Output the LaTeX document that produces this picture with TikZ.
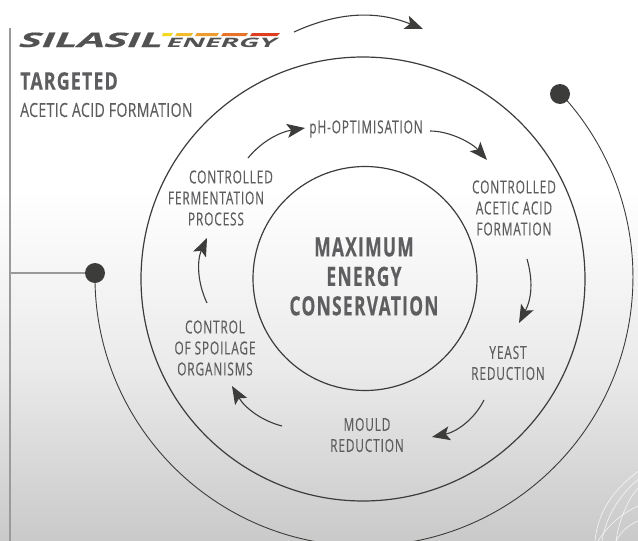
\documentclass[tikz,border=0pt]{standalone}
\usepackage{fontspec}
\usetikzlibrary{arrows.meta}
\setmainfont{Open Sans}
\newfontfamily\condfont[FakeStretch=0.655,LetterSpace=5,FakeBold=0.25]{Open Sans}
\newfontfamily\condbold[FakeStretch=0.655,LetterSpace=5,FakeBold=0.4]{Open Sans Bold}
\newfontfamily\headbold[FakeStretch=0.74,LetterSpace=5,FakeBold=0.4]{Open Sans Bold}
\newfontfamily\plainfont[FakeStretch=0.72,LetterSpace=2,FakeBold=0.2]{Open Sans}
\newfontfamily\logofont[FakeStretch=2.0,FakeSlant=0.45,FakeBold=0.5]{Open Sans Bold}
\newfontfamily\logofontb[FakeStretch=2.15,FakeSlant=0.45]{Open Sans Bold}
\definecolor{ink}{HTML}{3C3C3A}
\definecolor{label}{HTML}{5E5E60}
\definecolor{railc}{HTML}{9A9A9A}
\definecolor{s1}{HTML}{F6D91C}
\definecolor{s2}{HTML}{F3BC2B}
\definecolor{s3}{HTML}{EE9C2B}
\definecolor{s4}{HTML}{E67327}
\definecolor{s5}{HTML}{DE3E20}
\tikzset{
  x=1pt,y=-1pt,
  ring/.style={draw=ink,line width=1.2pt},
  bigarc/.style={draw=ink,line width=0.9pt},
  flow/.style={draw=ink,line width=1.1pt,-{Stealth[length=18pt,width=14pt,inset=4pt]}},
  stagelabel/.style={text=label,align=center,inner sep=0pt,font=\condfont\fontsize{18}{21}\selectfont},
  corelabel/.style={text=label,align=center,inner sep=0pt,font=\condbold\fontsize{26.5}{29.5}\selectfont},
  dotnode/.style={circle,fill=ink,minimum size=20pt,inner sep=0pt},
  rail/.style={draw=railc,line width=1.5pt},
  texture/.style={draw=white,line width=0.6pt,opacity=.8}
}
\begin{document}
\begin{tikzpicture}
\useasboundingbox (0,0) rectangle (638,541);
\clip (0,0) rectangle (638,541);
% background
\fill[white] (0,0) rectangle (638,200);
\shade[top color=white,bottom color=black!21,middle color=black!8] (0,190) rectangle (638,541);
% texture
\draw[texture] (595,541) .. controls (598,510) and (615,488) .. (640,470);
\draw[texture] (602,541) .. controls (606,515) and (622,492) .. (640,478);
\draw[texture] (616,541) .. controls (619,520) and (628,498) .. (640,486);
\draw[texture] (598,541) .. controls (610,522) and (625,512) .. (640,505);
\draw[texture] (616,541) .. controls (622,530) and (630,524) .. (640,520);
% rail
\coordinate (railtop) at (10,28);
\coordinate (railbot) at (10,541);
\coordinate (railjoin) at (10,273);
\draw[rail] (railtop) -- (railbot);
% dots
\node[dotnode] (dotL) at (95,273) {};
\node[dotnode] (dotR) at (560,94) {};
\draw[rail] (railjoin) -- (dotL);
\draw[bigarc] (dotL.center) arc[start angle=180.85,end angle=-43,radius=269];
% rings
\node[circle,ring,minimum size=444pt,inner sep=0pt] (outer) at (363,279) {};
\node[circle,ring,minimum size=224pt,inner sep=0pt] (inner) at (365,278.5) {};
\node[corelabel] (core) at (364,276.5) {MAXIMUM\\ENERGY\\CONSERVATION};
% logo
\node[anchor=base west,inner sep=0pt,text=black!68,font=\logofont\fontsize{20}{20}\selectfont] (logoA) at (17,47) {SILASIL};
\node[anchor=base west,inner sep=0pt,text=black!68,font=\logofontb\fontsize{13}{13}\selectfont] (logoB) at (165,47) {ENERGY};
\fill[s1] (163,33) -- (173,33) -- (171,36) -- (162,36) -- cycle;
\fill[s2] (177,33) -- (193,33) -- (191,36) -- (175,36) -- cycle;
\fill[s3] (197,33) -- (219,33) -- (217,36) -- (195,36) -- cycle;
\fill[s4] (223,33) -- (248,33) -- (246,36) -- (221,36) -- cycle;
\fill[s5] (252,33) -- (280,33) -- (277,36) -- (250,36) -- cycle;
% heading
\node[anchor=west,inner sep=0pt,text=label,font=\headbold\fontsize{24}{24}\selectfont] (head) at (20,81) {TARGETED};
\node[anchor=west,inner sep=0pt,text=label,font=\plainfont\fontsize{19.5}{19.5}\selectfont] (sub) at (20,110) {ACETIC ACID FORMATION};
% stages
\node[stagelabel] (ph) at (366,129) {pH-OPTIMISATION};
\node[stagelabel] (acetic) at (514,208) {CONTROLLED\\ACETIC ACID\\FORMATION};
\node[stagelabel] (yeast) at (508,363) {YEAST\\REDUCTION};
\node[stagelabel] (mould) at (367,435) {MOULD\\REDUCTION};
\node[stagelabel] (spoil) at (215,348) {CONTROL\\OF SPOILAGE\\ORGANISMS};
\node[stagelabel] (ferm) at (216,198) {\hspace*{30pt}CONTROLLED\\FERMENTATION\\PROCESS};
% arrows
\coordinate (a0s) at (294,32); \coordinate (a0e) at (423,29);
\coordinate (a1s) at (248,158); \coordinate (a1e) at (305,128);
\coordinate (a2s) at (430,131); \coordinate (a2e) at (487,160);
\coordinate (a3s) at (527,259); \coordinate (a3e) at (519,323);
\coordinate (a4s) at (484,400); \coordinate (a4e) at (432,437);
\coordinate (a5s) at (282,426); \coordinate (a5e) at (232,386);
\coordinate (a6s) at (207,303); \coordinate (a6e) at (207,238);
\draw[flow] (a0s) .. controls (340,11) and (378,11) .. (a0e);
\draw[flow] (a1s) .. controls (262,141) and (280,132) .. (a1e);
\draw[flow] (a2s) .. controls (450,131) and (472,143) .. (a2e);
\draw[flow] (a3s) .. controls (533,280) and (532,298) .. (a3e);
\draw[flow] (a4s) .. controls (474,420) and (456,432) .. (a4e);
\draw[flow] (a5s) .. controls (262,421) and (245,408) .. (a5e);
\draw[flow] (a6s) .. controls (197,282) and (197,260) .. (a6e);
\end{tikzpicture}
\end{document}
